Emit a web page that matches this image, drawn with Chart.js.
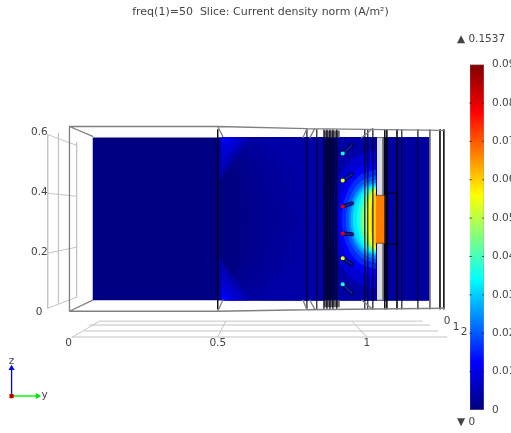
<!DOCTYPE html>
<html><head><meta charset="utf-8">
<style>html,body{margin:0;padding:0;background:#fff;overflow:hidden}canvas{display:block;filter:blur(0.7px)}</style>
<script src="https://cdn.jsdelivr.net/npm/chart.js@4"></script></head>
<body><canvas id="c" width="511" height="433"></canvas>
<script>
const titleText = 'freq(1)=50  Slice: Current density norm (A/m²)';
const yTicks = [0, 0.5, 1];
const zTicks = [0, 0.2, 0.4, 0.6];
const colorbarTicks = [0,0.01,0.02,0.03,0.04,0.05,0.06,0.07,0.08,0.09];
const colorbarStops = [0,0.0125,0.034,0.056,0.0776,0.09];
const colorbarColors = [[0,0,128],[0,0,255],[0,255,255],[255,255,0],[255,0,0],[128,0,0]];

// slice domain (y, z) and background current density
const sliceY = [0.081,1.211,1.211,0.081];
const sliceZ = [0.583,0.583,0.04,0.04];
const sliceLevel = 0.0002;

// straight-edged bands of the field
const bandLevels = [0.0008,0.0014,0.002,0.0026,0.0032,0.0038,0.004,0.006,0.008,0.01,0.013,0.004,0.006,0.008,0.01,0.013];
const bandY = [
 [0.517,0.565,0.58,0.565,0.517,1.211,1.211],
 [0.525,0.59,0.62,0.59,0.525,1.211,1.211],
 [0.534,0.62,0.66,0.62,0.534,1.211,1.211],
 [0.565,0.66,0.71,0.66,0.565,1.211,1.211],
 [0.591,0.708,0.758,0.708,0.591,1.211,1.211],
 [0.64,0.75,0.81,0.75,0.64,1.06,1.06],
 [0.503,0.503,0.55,0.62],[0.513,0.513,0.545,0.6],[0.513,0.513,0.545,0.58],[0.513,0.513,0.535,0.555],[0.517,0.517,0.535],
 [0.503,0.503,0.55,0.62],[0.513,0.513,0.545,0.6],[0.513,0.513,0.545,0.58],[0.513,0.513,0.535,0.555],[0.517,0.517,0.535]];
const bandZ = [
 [0.583,0.473,0.31,0.157,0.04,0.04,0.583],
 [0.583,0.473,0.31,0.157,0.04,0.04,0.583],
 [0.583,0.473,0.31,0.157,0.04,0.04,0.583],
 [0.583,0.473,0.31,0.157,0.04,0.04,0.583],
 [0.583,0.473,0.31,0.157,0.04,0.04,0.583],
 [0.583,0.473,0.31,0.157,0.04,0.04,0.583],
 [0.583,0.44,0.5,0.583],[0.583,0.47,0.52,0.583],[0.583,0.51,0.535,0.583],[0.583,0.54,0.56,0.583],[0.583,0.565,0.583],
 [0.04,0.183,0.123,0.04],[0.04,0.153,0.103,0.04],[0.04,0.113,0.088,0.04],[0.04,0.083,0.063,0.04],[0.04,0.058,0.04]];

// curved contours around the hot region
const hotLevels = [0.004,0.008,0.012,0.016,0.02,0.024,0.028,0.032,0.036,0.04,0.045,0.05,0.055,0.06];
const hotY = [
 [1.03,0.933,0.862,0.836,0.862,0.933,1.03],
 [1.03,0.953,0.897,0.876,0.897,0.953,1.03],
 [1.03,0.967,0.920,0.903,0.920,0.967,1.03],
 [1.03,0.973,0.931,0.916,0.931,0.973,1.03],
 [1.03,0.980,0.943,0.930,0.943,0.980,1.03],
 [1.03,0.985,0.952,0.940,0.952,0.985,1.03],
 [1.03,0.988,0.957,0.946,0.957,0.988,1.03],
 [1.03,0.992,0.963,0.953,0.963,0.992,1.03],
 [1.03,0.998,0.975,0.966,0.975,0.998,1.03],
 [1.03,1.004,0.984,0.977,0.984,1.004,1.03],
 [1.03,1.007,0.989,0.983,0.989,1.007,1.03],
 [1.03,1.012,0.998,0.993,0.998,1.012,1.03],
 [1.03,1.016,1.007,1.003,1.007,1.016,1.03],
 [1.03,1.022,1.015,1.013,1.015,1.022,1.03]];
const hotZ = [
 [0.58,0.544,0.445,0.31,0.175,0.076,0.04],
 [0.543,0.512,0.427,0.31,0.193,0.108,0.077],
 [0.503,0.477,0.407,0.31,0.213,0.143,0.117],
 [0.477,0.455,0.393,0.31,0.227,0.165,0.143],
 [0.457,0.437,0.383,0.31,0.237,0.183,0.163],
 [0.443,0.425,0.377,0.31,0.243,0.195,0.177],
 [0.433,0.417,0.372,0.31,0.248,0.203,0.187],
 [0.427,0.411,0.368,0.31,0.252,0.209,0.193],
 [0.423,0.408,0.367,0.31,0.253,0.212,0.197],
 [0.42,0.405,0.365,0.31,0.255,0.215,0.2],
 [0.417,0.403,0.363,0.31,0.257,0.217,0.203],
 [0.413,0.399,0.362,0.31,0.258,0.221,0.207],
 [0.41,0.397,0.36,0.31,0.26,0.223,0.21],
 [0.403,0.39,0.357,0.31,0.263,0.23,0.217]];

const coilY = [1.03,1.06,1.06,1.03];
const coilZ = [0.39,0.39,0.23,0.23];
const coilLevel = 0.067;
const plateY = [1.034,1.054,1.054,1.034];
const plateZ = [0.583,0.583,0.04,0.04];
const flangeY = [[0.856,0.909,0.909,0.856],[0.856,0.909,0.909,0.856]];
const flangeZ = [[0.607,0.607,0.583,0.583],[0.04,0.04,0.016,0.016]];
const shadowY = [0.856,0.899,0.899,0.856];
const shadowZ = [0.583,0.583,0.04,0.04];

// wire probes: hot spot value, tip position and far end
const wireLevels = [0.035,0.055,0.08,0.08,0.055,0.035];
const wireY0 = [0.919,0.919,0.919,0.919,0.919,0.919];
const wireZ0 = [0.53,0.44,0.353,0.263,0.18,0.093];
const wireY1 = [0.95,0.95,0.95,0.95,0.95,0.95];
const wireZ1 = [0.557,0.46,0.363,0.26,0.16,0.063];

// wireframe: [y0,z0,y1,z1]
const frameDark = [0.5,1.06,1.067,1.101,1.245,1.258];
const frameSoft = [0.799,0.832,0.856,0.866,0.876,0.886,0.899,0.993,1.003,1.02,1.117,1.171,1.211];
const frameGrey = [
 [0.003,0.62,0.5,0.62],[0.5,0.62,0.799,0.613],[0.799,0.613,1.258,0.607],
 [0.003,0.003,0.5,0.003],[0.5,0.003,0.799,0.008],[0.799,0.008,1.258,0.013],
 [0.003,0.62,0.003,0.003],[0.003,0.62,0.081,0.587],[0.003,0.003,0.081,0.04],
 [0.5,0.62,0.517,0.587],[0.5,0.003,0.517,0.04],
 [0.799,0.613,0.786,0.583],[0.799,0.008,0.786,0.04],
 [0.809,0.583,0.825,0.613],[0.809,0.04,0.825,0.01],
 [0.983,0.583,1.02,0.613],[0.983,0.04,1.02,0.01],
 [1.211,0.607,1.211,0.013]];
const frameInner = [[1.06,0.397,1.101,0.397],[1.101,0.397,1.101,0.227],[1.101,0.227,1.06,0.227]];
const gridLines = [
 [-0.07,0.593,-0.07,0.013],[-0.034,0.597,-0.034,0.03],[0.027,0.567,0.027,0.05],
 [-0.07,0.593,0.027,0.557],[-0.07,0.397,0.027,0.387],[-0.07,0.197,0.027,0.217],[-0.07,0.013,0.027,0.05],
 [0.104,-0.03,1.185,-0.03],[0.07,-0.043,1.211,-0.043],[0.054,-0.063,1.238,-0.063],[0.013,-0.083,1.268,-0.083],
 [0.013,-0.083,0.104,-0.03],[0.5,-0.083,0.527,-0.03],[1.0,-0.083,0.95,-0.03]];

// triad
const triadOriginY = -0.191, triadOriginZ = -0.28, triadTipY = -0.104, triadTipZ = -0.187;

// colourbar placement on the y scale
const colorbarY = [1.346,1.393,1.393,1.346];

// free text: x-direction tick labels, triad letters, range markers
const noteTexts = ['0','1','2','z','y','▲ 0.1537','▼ 0'];
const noteY = [1.269,1.299,1.326,-0.191,-0.08,1.302,1.302];
const noteZ = [-0.03,-0.05,-0.067,-0.163,-0.277,0.91,-0.367];

const level2rgb = v => {
  let i = 0;
  while (i < colorbarStops.length - 2 && v > colorbarStops[i+1]) i++;
  const t = Math.min(1, Math.max(0, (v - colorbarStops[i]) / (colorbarStops[i+1] - colorbarStops[i])));
  const a = colorbarColors[i], b = colorbarColors[i+1];
  return `rgb(${a.map((c,k)=>Math.round(c+(b[k]-c)*t)).join(',')})`;
};
const pts = (ys,zs) => ys.map((y,i)=>({x:y,y:zs[i]}));
const segs = list => { const o=[]; list.forEach(s=>{o.push({x:s[0],y:s[1]},{x:s[2],y:s[3]},{x:s[2],y:null});}); return o; };
const datasets = [];
const poly = (data,color,extra={}) => datasets.push({data,backgroundColor:color,borderWidth:0,borderColor:color,fill:'shape',pointRadius:0,...extra});
const stroke = (data,color,w,extra={}) => datasets.push({data,borderColor:color,borderWidth:w,fill:false,pointRadius:0,borderCapStyle:'round',...extra});

poly(pts(sliceY,sliceZ),level2rgb(sliceLevel));
bandLevels.forEach((l,i)=>poly(pts(bandY[i],bandZ[i]),level2rgb(l)));
hotLevels.forEach((l,i)=>poly(pts(hotY[i],hotZ[i]),level2rgb(l),{tension:0.35}));
stroke(segs(gridLines),'#c4c4c4',1);
flangeY.forEach((f,i)=>poly(pts(f,flangeZ[i]),'#666'));
poly(pts(shadowY,shadowZ),'rgba(0,0,25,0.5)');
stroke(segs(frameSoft.map(v=>[v,0.61,v,0.01])),'rgba(0,0,30,0.5)',1);
stroke(segs(frameDark.map(v=>[v,0.61,v,0.01])),'rgba(0,0,0,0.8)',1);
stroke(segs(frameGrey),'#808080',1.3);
poly(pts(plateY,plateZ),'#dcdcdc',{borderColor:'#777',borderWidth:1});
poly(pts(coilY,coilZ),level2rgb(coilLevel),{borderColor:'#4a2a00',borderWidth:0.6});
stroke(segs(frameInner),'#000',1);
const wireSegs = wireY0.map((y,i)=>[y,wireZ0[i],wireY1[i],wireZ1[i]]);
stroke(segs(wireSegs),'#000020',4);
stroke(segs(wireSegs),'#0020c0',2);
datasets.push({data:pts(wireY0,wireZ0),showLine:false,pointStyle:'circle',pointRadius:2,borderWidth:0,
  backgroundColor:wireLevels.map(level2rgb),pointBackgroundColor:wireLevels.map(level2rgb)});
// triad
stroke([{x:triadOriginY,y:triadOriginZ},{x:triadOriginY,y:triadTipZ}],'#0000ff',1.3);
stroke([{x:triadOriginY,y:triadOriginZ},{x:triadTipY,y:triadOriginZ}],'#00ff00',1.3);
datasets.push({data:[{x:triadOriginY,y:triadTipZ}],showLine:false,pointStyle:'triangle',pointRadius:3.5,pointBackgroundColor:'#0000ff',borderWidth:0});
datasets.push({data:[{x:triadTipY,y:triadOriginZ}],showLine:false,pointStyle:'triangle',pointRotation:90,pointRadius:3.5,pointBackgroundColor:'#00e000',borderWidth:0});
datasets.push({data:[{x:triadOriginY,y:triadOriginZ}],showLine:false,pointStyle:'rect',pointRadius:3,pointBackgroundColor:'#c00000',borderWidth:0});
// colourbar
datasets.push({data:pts(colorbarY,[0,0,0.09,0.09]),yAxisID:'y2',fill:'shape',pointRadius:0,borderWidth:0.8,borderColor:'#9a9a9a',
  backgroundColor:c=>{
    const s=c.chart.scales.y2; if(!s) return '#000';
    const y0=s.getPixelForValue(0), y1=s.getPixelForValue(0.09);
    if(!isFinite(y0)||!isFinite(y1)) return '#000';
    const g=c.chart.ctx.createLinearGradient(0,y0,0,y1);
    colorbarStops.forEach(v=>g.addColorStop(v/0.09,level2rgb(v)));
    return g;
  }});
datasets.push({data:colorbarTicks.slice(1,-1).flatMap(v=>[{x:colorbarY[0]+0.002,y:v},{x:colorbarY[1]-0.002,y:v}]),yAxisID:'y2',showLine:false,pointStyle:'line',pointRadius:1.5,borderWidth:1,pointBorderColor:'rgba(0,0,0,0.55)'});
datasets.forEach((d,i)=>{d.order=-i;});

const tickFont={family:'"DejaVu Sans"',size:10.5};
const textColor='#444';
const notesPlugin={id:'notes',
  afterLayout(ch){ if(ch.titleBlock){ ch.titleBlock.left+=5; ch.titleBlock.right+=5; } },
  afterDraw(ch){
  const {ctx,scales:{x,y}}=ch; ctx.save(); ctx.font='10.5px "DejaVu Sans"'; ctx.fillStyle=textColor; ctx.textBaseline='middle';
  noteTexts.forEach((t,i)=>{ctx.textAlign=t.length>1?'left':'center'; ctx.fillText(t,x.getPixelForValue(noteY[i]),y.getPixelForValue(noteZ[i]));});
  ctx.restore();}};

new Chart(document.getElementById('c'),{
  type:'line',
  data:{datasets},
  plugins:[notesPlugin],
  options:{
    responsive:false,animation:false,events:[],
    layout:{padding:{left:0,right:0,top:0,bottom:23}},
    plugins:{legend:{display:false},tooltip:{enabled:false},
      title:{display:true,text:titleText,color:textColor,font:{family:'"DejaVu Sans"',size:11,weight:'normal'},padding:{top:6,bottom:45.4}}},
    scales:{
      x:{type:'linear',min:-0.2131,max:1.3926,position:{y:-0.057},border:{display:false},grid:{display:false},
        afterBuildTicks:a=>{a.ticks=yTicks.map(v=>({value:v}));},
        ticks:{color:textColor,font:tickFont,maxRotation:0,autoSkip:false,padding:0,callback:v=>String(v)}},
      y:{type:'linear',min:-0.3267,max:0.8267,position:{x:-0.07},border:{display:false},grid:{display:false},
        afterBuildTicks:a=>{a.ticks=zTicks.map(v=>({value:v}));},
        ticks:{color:textColor,font:tickFont,padding:6,autoSkip:false,callback:v=>v===0?'0\u2002':String(v)}},
      y2:{type:'linear',min:0,max:0.09,position:'right',border:{display:false},grid:{display:false,drawTicks:false},
        afterFit:s=>{s.width=27;},
        afterBuildTicks:a=>{a.ticks=colorbarTicks.map(v=>({value:v}));},
        ticks:{color:textColor,font:tickFont,padding:8,autoSkip:false,callback:v=>String(v)}}
    }
  }
});
</script></body></html>
